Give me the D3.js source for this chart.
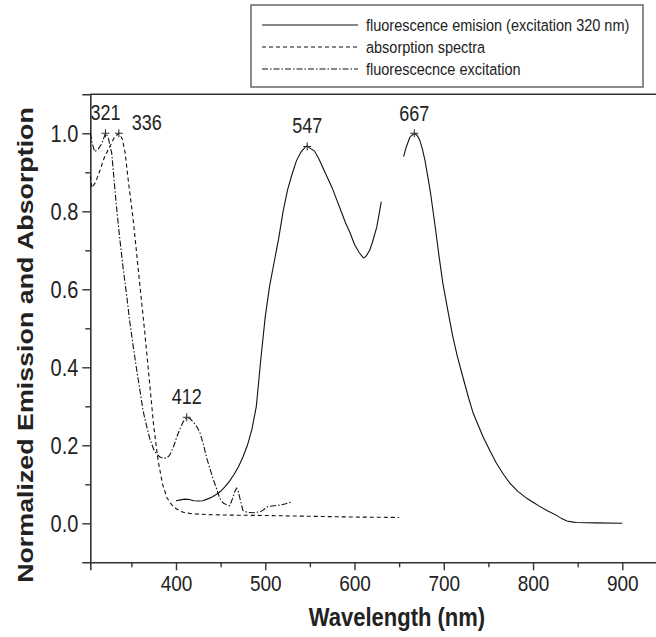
<!DOCTYPE html>
<html>
<head>
<meta charset="utf-8">
<script src="https://cdn.jsdelivr.net/npm/d3@7/dist/d3.min.js"></script>
<style>
  body { margin: 0; background: #fff; }
  svg { display: block; font-family: "Liberation Sans", Arial, sans-serif; }
</style>
</head>
<body>
<div id="chart"></div>
<script>
// data: [wavelength nm, normalized value]
var emissionA = [[400,0.058],[405,0.06],[410,0.062],[415,0.061],[420,0.058],[425,0.057],[430,0.058],[435,0.062],
  [440,0.067],[445,0.074],[450,0.082],[455,0.094],[460,0.108],[465,0.125],[470,0.145],[475,0.17],[480,0.2],
  [485,0.24],[490,0.3],[495,0.42],[500,0.53],[505,0.61],[510,0.67],[515,0.73],[520,0.8],[525,0.855],[530,0.895],
  [535,0.93],[540,0.952],[545,0.965],[547,0.968],[550,0.962],[555,0.955],[560,0.935],[565,0.91],[570,0.885],
  [575,0.86],[580,0.83],[585,0.8],[590,0.77],[595,0.745],[600,0.715],[605,0.695],[610,0.68],[613,0.685],
  [617,0.7],[620,0.72],[625,0.76],[630,0.825]];
var emissionB = [[655,0.94],[658,0.965],[662,0.99],[667,1.0],[670,0.995],[673,0.983],[676,0.96],[679,0.93],
  [682,0.89],[685,0.85],[688,0.8],[691,0.75],[695,0.68],[699,0.615],[705,0.54],[710,0.48],[715,0.43],[722,0.37],
  [728,0.32],[733,0.282],[744,0.222],[752,0.185],[759,0.154],[767,0.125],[774,0.103],[783,0.082],[793,0.064],
  [800,0.054],[807,0.044],[816,0.032],[826,0.021],[832,0.012],[838,0.006],[845,0.003],[849,0.002],[870,0.001],[900,0.0]];
var absorption = [[304,0.89],[306,0.86],[310,0.875],[315,0.906],[320,0.94],[326,0.966],[331,0.99],[336,1.0],
  [340,0.985],[343,0.95],[347,0.87],[352,0.78],[356,0.69],[360,0.6],[365,0.49],[370,0.37],[375,0.25],[380,0.16],
  [385,0.1],[390,0.065],[395,0.048],[400,0.038],[405,0.031],[410,0.027],[420,0.024],[440,0.022],[460,0.021],
  [500,0.02],[550,0.018],[600,0.016],[650,0.015]];
var excitation = [[304,1.0],[306,0.975],[309,0.953],[313,0.96],[317,0.974],[321,1.0],[324,0.99],[328,0.949],
  [333,0.82],[337,0.73],[341,0.65],[345,0.58],[348,0.52],[352,0.455],[356,0.393],[360,0.335],[363,0.29],
  [367,0.25],[371,0.214],[375,0.19],[378,0.178],[382,0.17],[386,0.167],[390,0.168],[393,0.175],[397,0.195],
  [401,0.222],[405,0.245],[408,0.26],[412,0.272],[416,0.268],[420,0.258],[424,0.245],[427,0.231],[431,0.2],
  [434,0.171],[438,0.14],[442,0.111],[446,0.085],[449,0.064],[453,0.052],[457,0.047],[460,0.045],[462,0.055],
  [464,0.068],[466,0.082],[468,0.09],[470,0.08],[472,0.06],[475,0.033],[480,0.028],[487,0.027],[495,0.03],
  [500,0.038],[503,0.043],[510,0.045],[517,0.047],[523,0.05],[530,0.055]];

var peakNm = [321, 336, 412, 547, 667];
var peakVal = [1.0, 1.0, 0.272, 0.966, 1.0];
var peakLabels = ["321", "336", "412", "547", "667"];

var legendLabels = ["fluorescence emision (excitation 320 nm)", "absorption spectra", "fluorescecnce excitation"];
var legendDash = ["none", "4,3", "6,2,1.5,2"];

var xMajor = [400, 500, 600, 700, 800, 900];
var xMinor = [350, 450, 550, 650, 750, 850, 950];
var yMajor = [0.0, 0.2, 0.4, 0.6, 0.8, 1.0];
var yMinor = [0.1, 0.3, 0.5, 0.7, 0.9];

var W = 656, H = 637;
var plotLeft = 90.3, plotTop = 94.3, plotBottom = 562.3;
var pxPerNm = 0.8926;
var stretch = 1.18; // the source figure is a bit taller than wide

var svg = d3.select("#chart").append("svg")
    .attr("width", W)
    .attr("height", H);

var x = d3.scaleLinear().domain([304, 960]).range([plotLeft, plotLeft + 656 * pxPerNm]);
var y = d3.scaleLinear().domain([-0.1, 1.1]).range([plotBottom, plotTop]);

var axisColor = "#333";

// frame top line
svg.append("line")
    .attr("x1", plotLeft).attr("x2", W + 20)
    .attr("y1", plotTop).attr("y2", plotTop)
    .attr("stroke", axisColor).attr("stroke-width", 1.6);

// X axis
var gx = svg.append("g").attr("transform", "translate(0," + plotBottom + ")");
gx.call(d3.axisBottom(x).tickValues(xMajor).tickSize(8).tickPadding(4).tickFormat(d3.format("d")));
svg.append("g").attr("transform", "translate(0," + plotBottom + ")")
    .call(d3.axisBottom(x).tickValues(xMinor).tickSize(5).tickFormat(""))
    .select(".domain").remove();

// Y axis
var gy = svg.append("g").attr("transform", "translate(" + plotLeft + ",0)");
gy.call(d3.axisLeft(y).tickValues(yMajor).tickSize(8).tickPadding(4).tickFormat(d3.format(".1f")));
svg.append("g").attr("transform", "translate(" + plotLeft + ",0)")
    .call(d3.axisLeft(y).tickValues(yMinor).tickSize(5).tickFormat(""))
    .select(".domain").remove();

svg.selectAll(".domain").attr("stroke", axisColor).attr("stroke-width", 1.6);
svg.selectAll(".tick line").attr("stroke", axisColor).attr("stroke-width", 1.4);
svg.selectAll(".tick text")
    .attr("fill", "#222")
    .style("font-size", "19px")
    .style("font-family", "'Liberation Sans', Arial, sans-serif");
gy.selectAll(".tick text").style("font-size", "20px");

// stretch tick labels vertically like the source
gx.selectAll(".tick text")
    .attr("y", 0).attr("dy", 0)
    .attr("transform", "translate(0,29) scale(1," + stretch + ")");
gy.selectAll(".tick text")
    .attr("dy", 0)
    .attr("transform", "translate(0,8.5) scale(1," + stretch + ")");

// axis titles
svg.append("text")
    .attr("transform", "translate(397,626) scale(1," + stretch + ")")
    .attr("text-anchor", "middle")
    .style("font-size", "22px").style("font-weight", "bold")
    .attr("fill", "#222")
    .text("Wavelength (nm)");
svg.append("text")
    .attr("transform", "translate(33,345) rotate(-90) scale(1.22,1)")
    .attr("text-anchor", "middle")
    .style("font-size", "22px").style("font-weight", "bold")
    .attr("fill", "#222")
    .text("Normalized Emission and Absorption");

// curves
var line = d3.line()
    .x(function(d) { return x(d[0]); })
    .y(function(d) { return y(d[1]); });

svg.append("path").datum(emissionA)
    .attr("d", line).attr("fill", "none").attr("stroke", "#111").attr("stroke-width", 1.1);
svg.append("path").datum(emissionB)
    .attr("d", line).attr("fill", "none").attr("stroke", "#111").attr("stroke-width", 1.1);
svg.append("path").datum(absorption)
    .attr("d", line).attr("fill", "none").attr("stroke", "#111").attr("stroke-width", 1.1)
    .attr("stroke-dasharray", legendDash[1]);
svg.append("path").datum(excitation)
    .attr("d", line).attr("fill", "none").attr("stroke", "#111").attr("stroke-width", 1.1)
    .attr("stroke-dasharray", legendDash[2]);

// peak markers
var labelOff = [[0, -13], [28, -3], [0, -13], [0, -14], [0, -12]];
peakNm.forEach(function(nm, i) {
    var px = x(nm), py = y(peakVal[i]);
    svg.append("path")
        .attr("d", "M" + (px - 4) + "," + py + "H" + (px + 4) + "M" + px + "," + (py - 4) + "V" + (py + 4))
        .attr("stroke", "#333").attr("stroke-width", 1.1);
    svg.append("text")
        .attr("transform", "translate(" + (px + labelOff[i][0]) + "," + (py + labelOff[i][1]) + ") scale(1," + stretch + ")")
        .attr("text-anchor", "middle")
        .style("font-size", "18px")
        .attr("fill", "#222")
        .text(peakLabels[i]);
});

// legend
var lg = svg.append("g");
lg.append("rect")
    .attr("x", 251).attr("y", 5).attr("width", 392).attr("height", 82)
    .attr("fill", "#fff").attr("stroke", "#666").attr("stroke-width", 1.5);
legendLabels.forEach(function(t, i) {
    var ly = 25 + i * 22;
    lg.append("line")
        .attr("x1", 262).attr("x2", 358).attr("y1", ly).attr("y2", ly)
        .attr("stroke", "#111").attr("stroke-width", 1.1)
        .attr("stroke-dasharray", legendDash[i]);
    lg.append("text")
        .attr("transform", "translate(366," + (ly + 6) + ") scale(1," + stretch + ")")
        .style("font-size", "14.5px")
        .attr("fill", "#222")
        .text(t);
});
</script>
</body>
</html>
